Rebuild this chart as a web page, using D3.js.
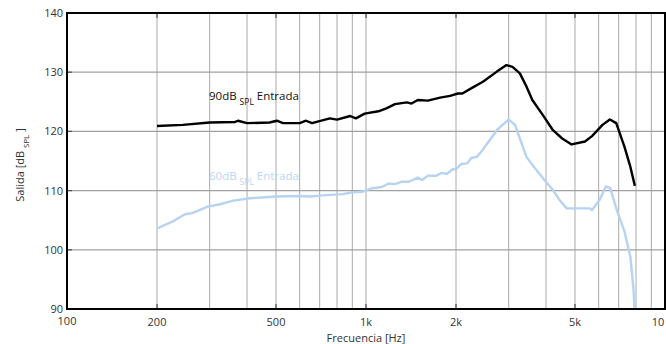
<!DOCTYPE html>
<html>
<head>
<meta charset="utf-8">
<script src="https://cdn.jsdelivr.net/npm/d3@7"></script>
<style>
  body{margin:0;background:#fff;}
  svg{display:block;font-family:"Open Sans",sans-serif;}
</style>
</head>
<body>
<div id="chart"></div>
<script>
// frequency response, 90 dB and 60 dB input
const freq90=[200,244,300,365,373,400,476,503,528,600,630,660,757,800,885,925,990,1100,1170,1250,1370,1420,1490,1610,1770,1910,2030,2100,2270,2460,2740,2950,3090,3270,3440,3600,3900,4220,4530,4870,5400,5700,6180,6540,6870,7320,7660,7930];
const out90=[120.9,121.1,121.5,121.6,121.8,121.4,121.5,121.8,121.4,121.4,121.8,121.4,122.2,122.0,122.6,122.2,123.0,123.4,123.9,124.6,124.9,124.7,125.3,125.2,125.7,126.0,126.4,126.4,127.4,128.4,130.1,131.2,130.9,129.8,127.6,125.3,122.8,120.2,118.8,117.8,118.3,119.2,121.1,122.0,121.4,117.4,114.0,110.8];

const freq60=[200,226,248,262,296,325,360,409,503,600,650,718,835,900,970,1050,1130,1190,1250,1320,1390,1490,1540,1610,1720,1790,1860,1950,2000,2080,2180,2250,2350,2440,2590,2740,2860,3000,3150,3270,3440,3670,3950,4220,4440,4690,4900,5600,5700,6040,6340,6560,6900,7320,7660,7850,7900];
const out60=[103.6,104.8,106.0,106.2,107.3,107.7,108.3,108.7,109.0,109.1,109.0,109.2,109.4,109.7,109.8,110.4,110.6,111.2,111.1,111.5,111.5,112.2,111.8,112.5,112.5,113.0,112.8,113.6,113.6,114.5,114.6,115.5,115.7,116.7,118.5,120.2,121.1,122.0,121.1,118.8,115.7,113.8,111.8,110.1,108.4,107.0,107.0,107.0,106.7,108.4,110.7,110.4,106.7,103.1,98.8,93.2,90.2];

const xTicks=[100,200,500,1000,2000,5000,10000];
const xTickLabels=["100","200","500","1k","2k","5k","10"];
const xGrid=[200,300,400,500,600,700,800,900,1000,2000,3000,4000,5000,6000,7000,8000,9000];
const yTicks=[90,100,110,120,130,140];

const W=666,H=344;
const m={left:67,right:1,top:13,bottom:35};

const svg=d3.select("#chart").append("svg").attr("width",W).attr("height",H);

const x=d3.scaleLog().domain([100,10000]).range([m.left,W-m.right]);
const y=d3.scaleLinear().domain([90,140]).range([H-m.bottom,m.top]);

// grid
svg.append("g").selectAll("line").data(xGrid).join("line")
  .attr("x1",d=>x(d)).attr("x2",d=>x(d)).attr("y1",y(140)).attr("y2",y(90))
  .attr("stroke","#aaa").attr("stroke-width",1);
svg.append("g").selectAll("line").data([100,110,120,130]).join("line")
  .attr("x1",x(100)).attr("x2",x(10000)).attr("y1",d=>y(d)).attr("y2",d=>y(d))
  .attr("stroke","#a0a0a0").attr("stroke-width",1.3);

// inner tick marks
svg.append("g").selectAll("line").data([100,110,120,130]).join("line")
  .attr("x1",x(100)).attr("x2",x(100)+5).attr("y1",d=>y(d)).attr("y2",d=>y(d))
  .attr("stroke","#555").attr("stroke-width",1.3);
[140,90].forEach(v=>{
  svg.append("g").selectAll("line").data(xTicks.slice(1,-1)).join("line")
    .attr("x1",d=>x(d)).attr("x2",d=>x(d))
    .attr("y1",y(v)).attr("y2",y(v)+(v===140?5:-5))
    .attr("stroke","#555").attr("stroke-width",1.3);
});

// curves
const line=d3.line().x(d=>x(d[0])).y(d=>y(d[1])).curve(d3.curveLinear);
svg.append("path").datum(d3.zip(freq60,out60)).attr("d",line)
  .attr("fill","none").attr("stroke","#b7d3f2").attr("stroke-width",2.4).attr("stroke-linejoin","round");
svg.append("path").datum(d3.zip(freq90,out90)).attr("d",line)
  .attr("fill","none").attr("stroke","#000").attr("stroke-width",2.4).attr("stroke-linejoin","round");

// frame
svg.append("rect").attr("x",x(100)).attr("y",y(140))
  .attr("width",x(10000)-x(100)).attr("height",y(90)-y(140))
  .attr("fill","none").attr("stroke","#000").attr("stroke-width",2);

// tick labels
svg.append("g").selectAll("text").data(yTicks).join("text")
  .attr("x",x(100)-4).attr("y",d=>y(d)+4).attr("text-anchor","end")
  .attr("fill","#333").style("font-size","11px").text(d=>d);
svg.append("g").selectAll("text").data(xTicks).join("text")
  .attr("x",(d,i)=>i===xTicks.length-1?x(d)-7:x(d)).attr("y",(d,i)=>i===0?325:326)
  .attr("text-anchor","middle")
  .attr("fill","#333").style("font-size","11px").text((d,i)=>xTickLabels[i]);

// axis titles
svg.append("text").attr("x",(x(100)+x(10000))/2).attr("y",341.5).attr("text-anchor","middle")
  .attr("fill","#333").style("font-size","11px").text("Frecuencia [Hz]");
const yt=svg.append("text").attr("transform",`translate(24,${y(115)+4}) rotate(-90)`)
  .attr("text-anchor","middle").attr("fill","#333").style("font-size","11px");
yt.append("tspan").text("Salida [dB ");
yt.append("tspan").attr("dy",5).style("font-size","8px").text("SPL");
yt.append("tspan").attr("dy",-5).text(" ]");

// curve labels
function curveLabel(lvl,px,py,color){
  const t=svg.append("text").attr("x",px).attr("y",py).attr("fill",color).style("font-size","11.5px");
  t.append("tspan").text(lvl+"dB ");
  t.append("tspan").attr("dy",5).style("font-size","8.5px").text("SPL");
  t.append("tspan").attr("dy",-5).text(" Entrada");
}
curveLabel(90,209,100,"#111");
curveLabel(60,209,180,"#bcd6f3");
</script>
</body>
</html>
